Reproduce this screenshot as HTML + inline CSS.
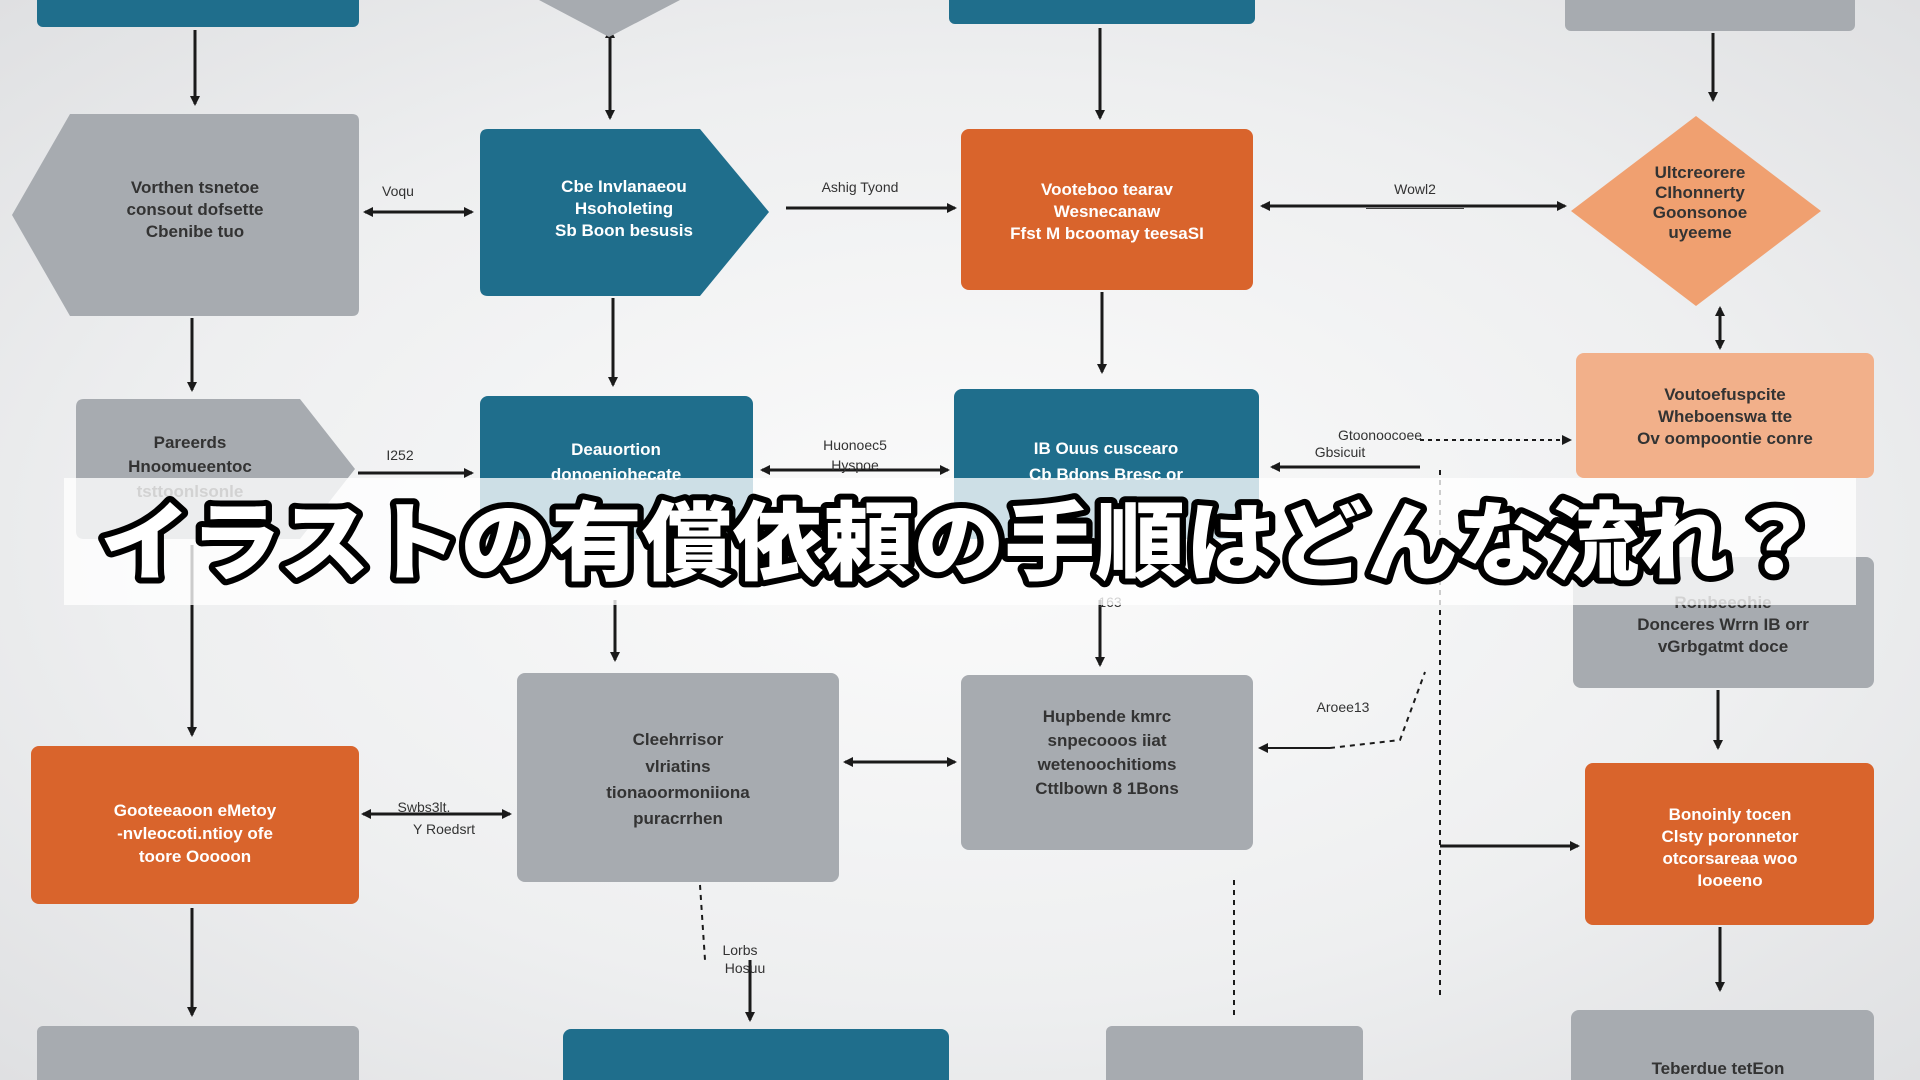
<!DOCTYPE html>
<html><head><meta charset="utf-8"><style>
html,body{margin:0;padding:0;width:1920px;height:1080px;overflow:hidden;}
body{background:radial-gradient(ellipse at 50% 50%,#fbfbfb 0%,#eeeff0 60%,#dfe0e2 100%);font-family:"Liberation Sans",sans-serif;}
svg{position:absolute;left:0;top:0}
</style></head><body>
<svg width="1920" height="1080" viewBox="0 0 1920 1080" xmlns="http://www.w3.org/2000/svg">
<defs>
<marker id="a" markerWidth="10" markerHeight="10" refX="8" refY="5" orient="auto" markerUnits="userSpaceOnUse"><path d="M0,0 L10,5 L0,10 z" fill="#1a1a1a"/></marker>
<marker id="b" markerWidth="10" markerHeight="10" refX="2" refY="5" orient="auto" markerUnits="userSpaceOnUse"><path d="M10,0 L0,5 L10,10 z" fill="#1a1a1a"/></marker>
</defs>
<g stroke="#1a1a1a" stroke-width="3" fill="none">
<!-- verticals -->
<line x1="195" y1="30" x2="195" y2="104" marker-end="url(#a)"/>
<line x1="610" y1="30" x2="610" y2="118" marker-end="url(#a)" marker-start="url(#b)"/>
<line x1="1100" y1="28" x2="1100" y2="118" marker-end="url(#a)"/>
<line x1="1713" y1="33" x2="1713" y2="100" marker-end="url(#a)"/>
<line x1="192" y1="318" x2="192" y2="390" marker-end="url(#a)"/>
<line x1="613" y1="298" x2="613" y2="385" marker-end="url(#a)"/>
<line x1="1102" y1="292" x2="1102" y2="372" marker-end="url(#a)"/>
<line x1="1720" y1="308" x2="1720" y2="348" marker-end="url(#a)" marker-start="url(#b)"/>
<line x1="192" y1="545" x2="192" y2="735" marker-end="url(#a)"/>
<line x1="615" y1="600" x2="615" y2="660" marker-end="url(#a)"/>
<line x1="1100" y1="600" x2="1100" y2="665" marker-end="url(#a)"/>
<line x1="1718" y1="690" x2="1718" y2="748" marker-end="url(#a)"/>
<line x1="192" y1="908" x2="192" y2="1015" marker-end="url(#a)"/>
<line x1="1720" y1="927" x2="1720" y2="990" marker-end="url(#a)"/>
<!-- horizontals -->
<line x1="365" y1="212" x2="472" y2="212" marker-end="url(#a)" marker-start="url(#b)"/>
<line x1="786" y1="208" x2="955" y2="208" marker-end="url(#a)"/>
<line x1="1262" y1="206" x2="1565" y2="206" marker-end="url(#a)" marker-start="url(#b)"/>
<line x1="358" y1="473" x2="472" y2="473" marker-end="url(#a)"/>
<line x1="762" y1="470" x2="948" y2="470" marker-end="url(#a)" marker-start="url(#b)"/>
<line x1="1272" y1="467" x2="1420" y2="467" marker-start="url(#b)"/>
<line x1="1420" y1="440" x2="1570" y2="440" marker-end="url(#a)" stroke-dasharray="4 4" stroke-width="2"/>
<line x1="363" y1="814" x2="510" y2="814" marker-end="url(#a)" marker-start="url(#b)"/>
<line x1="845" y1="762" x2="955" y2="762" marker-end="url(#a)" marker-start="url(#b)"/>
<line x1="1260" y1="748" x2="1330" y2="748" marker-start="url(#b)" stroke-width="2"/>
<line x1="1440" y1="846" x2="1578" y2="846" marker-end="url(#a)"/>
<!-- dashed -->
<path d="M1440,470 L1440,1000" stroke-dasharray="5 5" stroke-width="2"/>
<path d="M1330,748 L1400,740 L1425,672" stroke-dasharray="5 5" stroke-width="2"/>
<path d="M700,885 L705,960 M1234,880 L1234,1020" stroke-dasharray="5 5" stroke-width="2"/>
<line x1="750" y1="960" x2="750" y2="1020" marker-end="url(#a)"/>
</g>
<!-- shapes -->
<rect x="37" y="-10" width="322" height="37" rx="6" fill="#1f6e8c"/>
<path d="M539,0 L680,0 L609,37 z" fill="#a7abb0"/>
<rect x="949" y="-10" width="306" height="34" rx="6" fill="#1f6e8c"/>
<rect x="1565" y="-10" width="290" height="41" rx="6" fill="#a7abb0"/>

<path d="M70,114 L352,114 Q359,114 359,121 L359,309 Q359,316 352,316 L70,316 L12,215 z" fill="#a7abb0"/>
<path d="M488,129 L700,129 L769,212 L700,296 L488,296 Q480,296 480,288 L480,137 Q480,129 488,129z" fill="#1f6e8c"/>
<rect x="961" y="129" width="292" height="161" rx="8" fill="#d9642c"/>
<path d="M1696,116 L1821,211 L1696,306 L1571,211 z" fill="#f0a070"/>

<path d="M84,399 L300,399 L355,469 L300,539 L84,539 Q76,539 76,531 L76,407 Q76,399 84,399z" fill="#a7abb0"/>
<rect x="480" y="396" width="273" height="143" rx="8" fill="#1f6e8c"/>
<rect x="954" y="389" width="305" height="150" rx="8" fill="#1f6e8c"/>
<rect x="1576" y="353" width="298" height="125" rx="8" fill="#f2b08a"/>

<rect x="1573" y="557" width="301" height="131" rx="8" fill="#a7abb0"/>
<rect x="517" y="673" width="322" height="209" rx="8" fill="#a7abb0"/>
<rect x="961" y="675" width="292" height="175" rx="8" fill="#a7abb0"/>
<rect x="31" y="746" width="328" height="158" rx="8" fill="#d9642c"/>
<rect x="1585" y="763" width="289" height="162" rx="8" fill="#d9642c"/>

<rect x="37" y="1026" width="322" height="70" rx="6" fill="#a7abb0"/>
<rect x="563" y="1029" width="386" height="70" rx="8" fill="#1f6e8c"/>
<rect x="1106" y="1026" width="257" height="70" rx="6" fill="#a7abb0"/>
<rect x="1571" y="1010" width="303" height="80" rx="8" fill="#a7abb0"/>

<g font-family="Liberation Sans" font-size="17" text-anchor="middle" font-weight="bold">
<g fill="#333"><text x="195" y="193">Vorthen tsnetoe</text><text x="195" y="215">consout dofsette</text><text x="195" y="237">Cbenibe tuo</text>
<text x="190" y="448">Pareerds</text><text x="190" y="472">Hnoomueentoc</text><text x="190" y="497">tsttoonlsonle</text>
<text x="678" y="745">Cleehrrisor</text><text x="678" y="772">vlriatins</text><text x="678" y="798">tionaoormoniiona</text><text x="678" y="824">puracrrhen</text>
<text x="1107" y="722">Hupbende kmrc</text><text x="1107" y="746">snpecooos iiat</text><text x="1107" y="770">wetenoochitioms</text><text x="1107" y="794">Cttlbown 8 1Bons</text>
<text x="1723" y="608">Ronbeeohie</text><text x="1723" y="630">Donceres Wrrn IB orr</text><text x="1723" y="652">vGrbgatmt doce</text>
<text x="1718" y="1074">Teberdue tetEon</text></g>
<g fill="#fff"><text x="624" y="192">Cbe Invlanaeou</text><text x="624" y="214">Hsoholeting</text><text x="624" y="236">Sb Boon besusis</text>
<text x="616" y="455">Deauortion</text><text x="616" y="480">donoeniohecate</text>
<text x="1106" y="454">IB Ouus cuscearo</text><text x="1106" y="480">Cb Bdons Bresc or</text>
<text x="1107" y="195">Vooteboo tearav</text><text x="1107" y="217">Wesnecanaw</text><text x="1107" y="239">Ffst M bcoomay teesaSI</text>
<text x="195" y="816">Gooteeaoon eMetoy</text><text x="195" y="839">-nvleocoti.ntioy ofe</text><text x="195" y="862">toore Ooooon</text>
<text x="1730" y="820">Bonoinly tocen</text><text x="1730" y="842">Clsty poronnetor</text><text x="1730" y="864">otcorsareaa woo</text><text x="1730" y="886">Iooeeno</text></g>
<g fill="#333"><text x="1700" y="178">Ultcreorere</text><text x="1700" y="198">CIhonnerty</text><text x="1700" y="218">Goonsonoe</text><text x="1700" y="238">uyeeme</text>
<text x="1725" y="400">Voutoefuspcite</text><text x="1725" y="422">Wheboenswa tte</text><text x="1725" y="444">Ov oompoontie conre</text></g>
</g>
<g font-family="Liberation Sans" font-size="14" fill="#333" text-anchor="middle">
<text x="398" y="196">Voqu</text><text x="860" y="192">Ashig Tyond</text><text x="1415" y="194">Wowl2</text><text x="1415" y="212">———————</text>
<text x="400" y="460">I252</text><text x="855" y="450">Huonoec5</text><text x="855" y="470">Hyspoe</text>
<text x="1380" y="440">Gtoonoocoee</text><text x="1340" y="457">Gbsicuit</text>
<text x="1343" y="712">Aroee13</text><text x="424" y="812">Swbs3lt.</text><text x="444" y="834">Y Roedsrt</text>
<text x="740" y="955">Lorbs</text><text x="745" y="973">Hosuu</text><text x="1110" y="607">163</text>
</g>
<!-- banner -->
<rect x="64" y="478" width="1792" height="127" fill="#ffffff" fill-opacity="0.78"/>
<text x="960" y="573" text-anchor="middle" font-family="'Noto Sans CJK JP',sans-serif" font-weight="900" font-size="86" fill="#fff" stroke="#000" stroke-width="12" stroke-linejoin="round" paint-order="stroke" textLength="1720" lengthAdjust="spacingAndGlyphs">イラストの有償依頼の手順はどんな流れ？</text>
</svg>
</body></html>
